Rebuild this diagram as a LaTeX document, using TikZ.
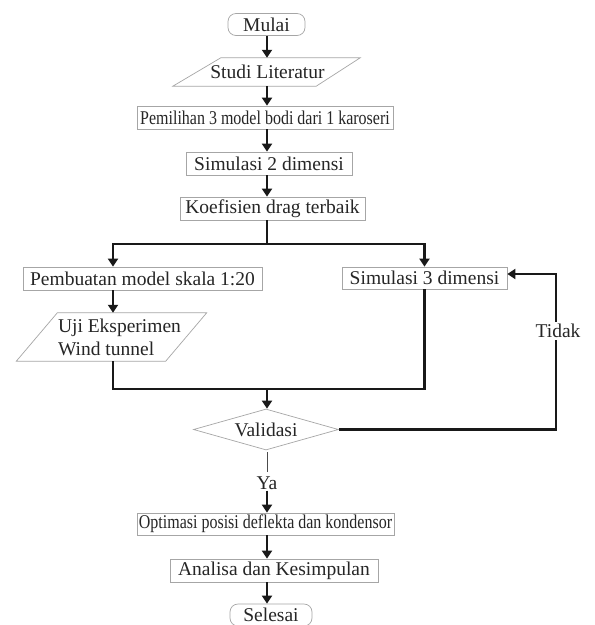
\documentclass[tikz,border=0pt]{standalone}
\usepackage{fontspec}
\setmainfont{Liberation Serif}
\usetikzlibrary{arrows.meta,shapes.geometric,calc}
\begin{document}
\begin{tikzpicture}[x=1pt,y=-1pt,
  every node/.style={font=\fontsize{19.5}{23}\selectfont, text=black!85},
  box/.style={draw=black!35, line width=0.7pt, rectangle, inner sep=0pt, minimum height=23pt},
  term/.style={box, rounded corners=8pt, minimum height=22pt},
  para/.style={inner sep=0pt},
  dec/.style={draw=black!35, line width=0.7pt, diamond, aspect=3.5, inner sep=0pt},
  pline/.style={draw=black!35, line width=0.7pt, line join=miter},
  conn/.style={draw=black!90, line width=2.2pt, line join=miter},
  arr/.style={conn, -{Triangle[length=8pt,width=10pt]}},
  thinconn/.style={draw=black!70, line width=0.9pt}
]
\useasboundingbox (0,0) rectangle (595,625);
\fill[white] (0,0) rectangle (595,625);

% spine coordinates
\coordinate (sp) at (267,0);
\coordinate (lx) at (113,0);
\coordinate (tk) at (556,0);
\coordinate (split) at (267,244);
\coordinate (merge) at (267,389);

% nodes
\node[term, minimum width=77pt] (mulai) at (266.5,24.5) {Mulai};
\node[para, minimum width=141pt, minimum height=28pt] (studi) at (267.5,72) {Studi Literatur};
\draw[pline] ([xshift=-24pt]studi.south west) -- ([xshift=24pt]studi.north west) -- ([xshift=22pt]studi.north east) -- ([xshift=-22pt]studi.south east) -- cycle;
\node[box, minimum width=256pt] (pem) at (265,117.5) {\scalebox{0.82}[1]{Pemilihan 3 model bodi dari 1 karoseri}};
\node[box, minimum width=166pt] (sim2) at (269,163.5) {Simulasi 2 dimensi};
\node[box, minimum width=185pt] (koef) at (272.5,208.5) {Koefisien drag terbaik};
\node[box, minimum width=239pt] (pemb) at (142.5,278.5) {Pembuatan model skala 1:20};
\node[para, minimum width=149pt, minimum height=48pt, align=left] (uji) at (111.5,337) {\hspace*{16pt}Uji Eksperimen\\\hspace*{16pt}Wind tunnel};
\draw[pline] ([xshift=-20.5pt]uji.south west) -- ([xshift=20.5pt]uji.north west) -- ([xshift=20.5pt]uji.north east) -- ([xshift=-20.5pt]uji.south east) -- cycle;
\node[box, minimum width=165pt, minimum height=22pt] (sim3) at (424.5,278) {Simulasi 3 dimensi};
\node[dec, minimum width=145pt, minimum height=41pt] (val) at (266,429.5) {Validasi};
\node[inner sep=1pt] (ya) at (267,483) {Ya};
\node[box, minimum width=257pt, minimum height=22pt] (opt) at (265.5,524) {\scalebox{0.82}[1]{Optimasi posisi deflekta dan kondensor}};
\node[box, minimum width=208pt] (ana) at (274,570.5) {Analisa dan Kesimpulan};
\node[term, minimum width=82pt] (sel) at (271,615) {Selesai};

% connectors
\draw[arr] (mulai.south -| sp) -- (studi.north -| sp);
\draw[arr] (studi.south -| sp) -- (pem.north -| sp);
\draw[arr] (pem.south -| sp) -- (sim2.north -| sp);
\draw[arr] (sim2.south -| sp) -- (koef.north -| sp);
\draw[conn] (koef.south -| sp) -- (split);
\draw[arr] (split) -| (pemb.north -| lx);
\draw[arr] (split) -| (sim3.north);
\draw[arr] (pemb.south -| lx) -- (uji.north -| lx);
\draw[conn] (uji.south -| lx) |- (merge);
\draw[conn] (sim3.south) |- (merge);
\draw[arr] (merge) -- (val.north -| merge);
\draw[arr] (val.east) -| ([yshift=4pt]sim3.east -| tk) -- ([yshift=4pt]sim3.east);
\node[fill=white, inner xsep=0pt, inner ysep=2.5pt] (tidak) at (558,331) {Tidak};
\draw[thinconn] ([yshift=-2pt]val.south -| sp) -- ([yshift=3pt]ya.north -| sp);
\draw[arr] (ya.south -| sp) -- (opt.north -| sp);
\draw[arr] (opt.south -| sp) -- (ana.north -| sp);
\draw[arr] (ana.south -| sp) -- (sel.north -| sp);
\end{tikzpicture}
\end{document}
